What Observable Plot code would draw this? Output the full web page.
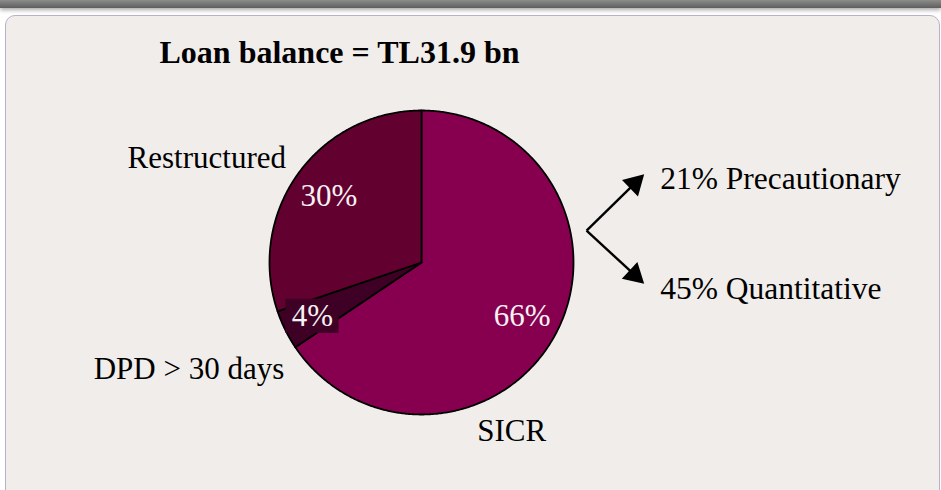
<!DOCTYPE html>
<html>
<head>
<meta charset="utf-8">
<script src="https://cdn.jsdelivr.net/npm/d3@7"></script>
<script src="https://cdn.jsdelivr.net/npm/@observablehq/plot@0.6"></script>
<style>
  html, body { margin: 0; padding: 0; background: #ffffff; }
  body { width: 941px; height: 490px; overflow: hidden; position: relative; font-family: "Liberation Serif", "Times New Roman", serif; }
  #bar { position: absolute; left: 0; top: 0; width: 941px; height: 8px;
         background: linear-gradient(#8c8c8c, #5e5e5e); box-shadow: 0 2px 4px rgba(0,0,0,0.35); }
  #panel { position: absolute; left: 5px; top: 15px; width: 935px; height: 500px; box-sizing: border-box;
           border: 1.5px solid #bab0ca; border-radius: 10px; background: #f0edea; }
  #chart { position: absolute; left: 0; top: 0; }
</style>
</head>
<body>
<div id="bar"></div>
<div id="panel"></div>
<div id="chart"></div>
<script>
// ---- data ----
const title = "Loan balance = TL31.9 bn";
const categories = ["SICR", "DPD > 30 days", "Restructured"];
const shares = [65.6, 4.2, 30.2];
const shareLabels = ["66%", "4%", "30%"];
const sliceColors = ["#870050", "#3e0024", "#62002f"];
const breakdownValues = [21, 45];
const breakdownNames = ["Precautionary", "Quantitative"];

// ---- geometry (pie radius = 1 data unit) ----
const arcs = d3.pie().sort(null).value(d => d)(shares);
const slices = arcs.map((a, i) => {
  const pts = [{x: 0, y: 0}];
  const n = Math.max(2, Math.ceil((a.endAngle - a.startAngle) / (Math.PI / 360)));
  for (let k = 0; k <= n; k++) {
    const t = a.startAngle + (a.endAngle - a.startAngle) * k / n;
    pts.push({x: Math.sin(t), y: Math.cos(t)});
  }
  pts.push({x: 0, y: 0});
  const mid = (a.startAngle + a.endAngle) / 2;
  return {name: categories[i], label: shareLabels[i], color: sliceColors[i], pts, mid};
});
const at = (s, r) => ({x: r * Math.sin(s.mid), y: r * Math.cos(s.mid), s});

const inner = slices.map(s => at(s, s.name === "DPD > 30 days" ? 0.8 : 0.75));
const dpdLab = inner[1];
const boxW = 0.175, boxH = 0.112;

// breakdown arrows
const vertex = {x: 1.086, y: 0.21};
const tips = [{x: 1.465, y: 0.58}, {x: 1.465, y: -0.14}];
const arrows = tips.map((t, i) => {
  const dx = t.x - vertex.x, dy = t.y - vertex.y, L = Math.hypot(dx, dy);
  const ux = dx / L, uy = dy / L;
  return {
    x1: vertex.x, y1: vertex.y,
    x2: t.x - ux * 0.1, y2: t.y - uy * 0.1,
    hx: t.x - ux * 0.087, hy: t.y - uy * 0.087,
    rot: Math.atan2(dx, dy) * 180 / Math.PI,
    tx: t.x, ty: t.y,
    text: `${breakdownValues[i]}% ${breakdownNames[i]}`
  };
});

const S = 152; // px per unit
const chart = Plot.plot({
  width: 941, height: 490, margin: 0,
  x: {domain: [-421 / S, 520 / S], axis: null},
  y: {domain: [-228 / S, 262 / S], axis: null},
  style: {background: "transparent", fontFamily: "'Liberation Serif', 'Times New Roman', serif", overflow: "visible"},
  marks: [
    ...slices.map(s => Plot.line(s.pts, {x: "x", y: "y", fill: s.color, stroke: "black", strokeWidth: 1.8, strokeLinejoin: "round", curve: "linear"})),
    Plot.rect([dpdLab], {x1: d => d.x - boxW, x2: d => d.x + boxW, y1: d => d.y - boxH, y2: d => d.y + boxH, fill: sliceColors[1]}),
    Plot.text(inner, {x: "x", y: "y", text: d => d.s.label, fill: "#f6f1f3", fontSize: 31}),
    // outer category labels
    Plot.text([at(slices[2], 1)], {x: "x", y: "y", text: d => d.s.name, textAnchor: "end", dx: -12, dy: -16, fontSize: 31, fill: "black"}),
    Plot.text([at(slices[1], 1)], {x: "x", y: "y", text: d => d.s.name, textAnchor: "end", dx: -1, dy: 39, fontSize: 31, fill: "black"}),
    Plot.text([at(slices[0], 1)], {x: "x", y: "y", text: d => d.s.name, textAnchor: "middle", dx: -44, dy: 97, fontSize: 31, fill: "black"}),
    // arrows
    Plot.link(arrows, {x1: "x1", y1: "y1", x2: "x2", y2: "y2", stroke: "black", strokeWidth: 2.4}),
    Plot.dot(arrows, {x: "hx", y: "hy", symbol: "triangle", r: 8.5, rotate: "rot", fill: "black", stroke: "none"}),
    Plot.text(arrows, {x: "tx", y: "ty", text: "text", textAnchor: "start", dx: 16, dy: 5, fontSize: 31.5, fill: "black"}),
    // title
    Plot.text([title], {frameAnchor: "top-left", dx: 339, dy: 52, lineAnchor: "middle", textAnchor: "middle", text: d => d, fontWeight: "bold", fontSize: 32, fill: "black"})
  ]
});
document.getElementById("chart").appendChild(chart);
</script>
</body>
</html>
